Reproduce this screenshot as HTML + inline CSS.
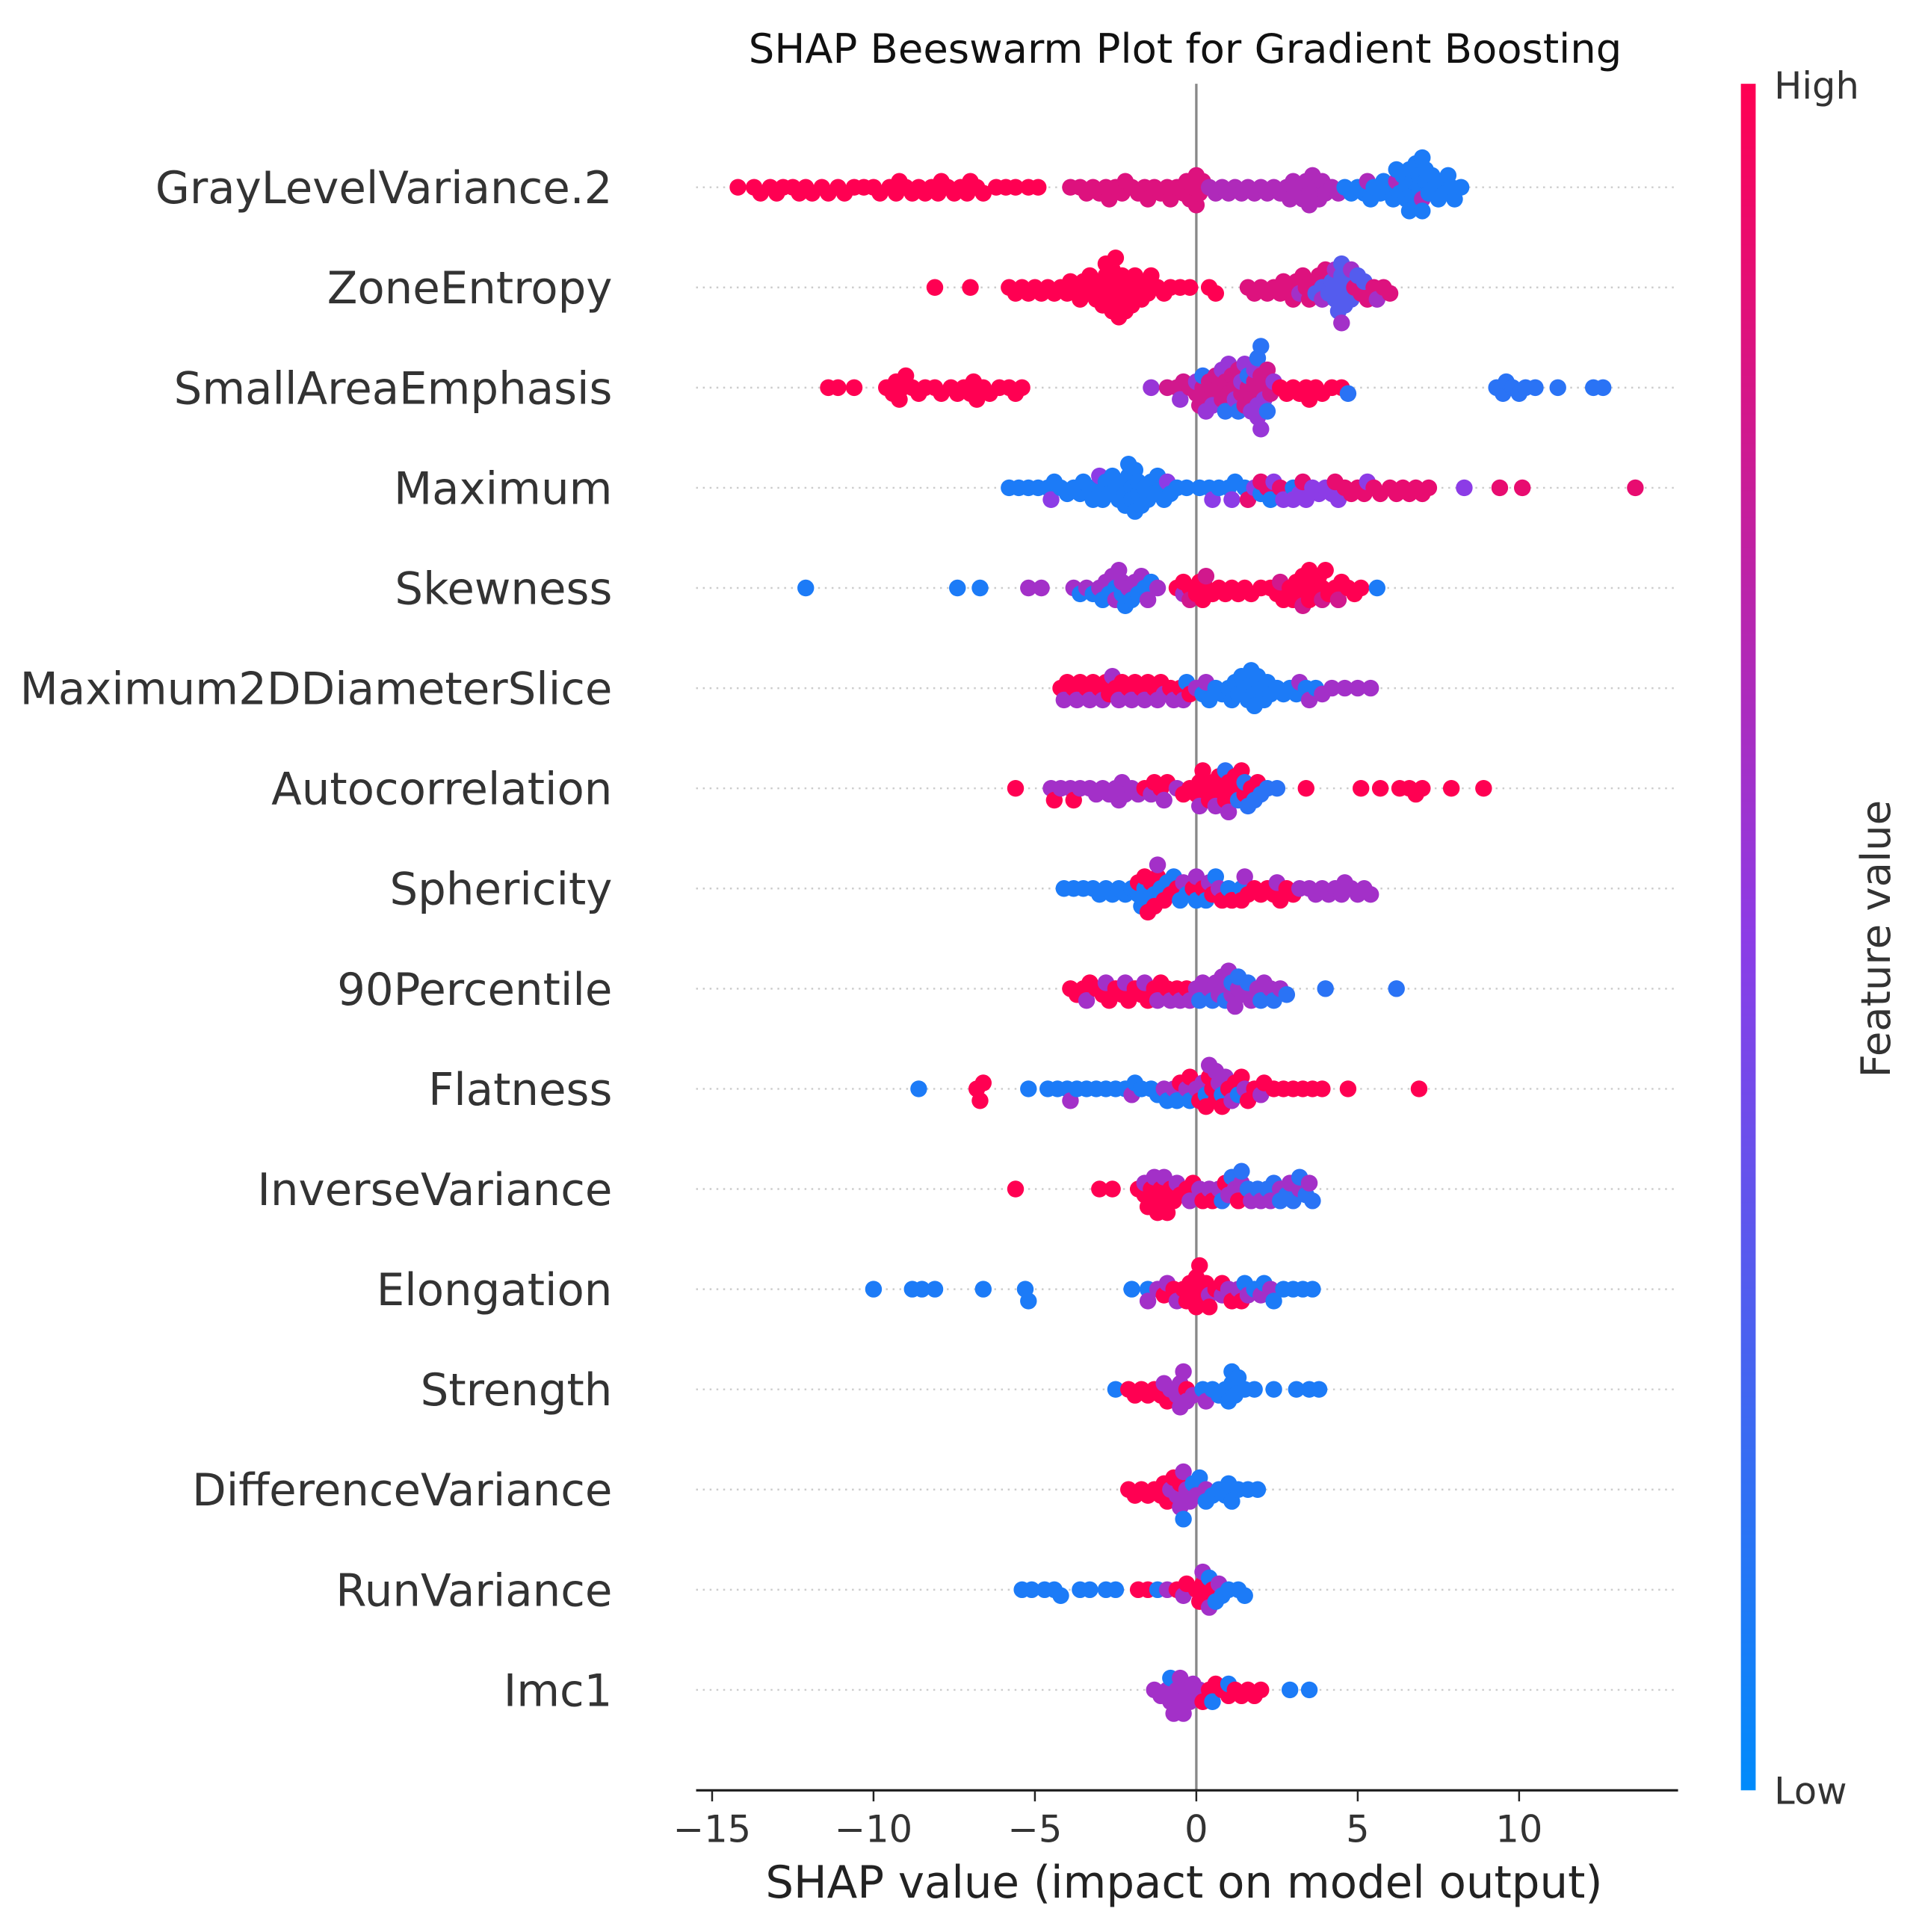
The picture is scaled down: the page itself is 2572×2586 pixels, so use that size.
<!DOCTYPE html>
<html><head><meta charset="utf-8"><style>
html,body{margin:0;padding:0;background:#fff;}
svg{display:block;}
text{font-family:"DejaVu Sans","Liberation Sans",sans-serif;}
</style></head><body>
<svg id="chart" width="2572" height="2586" viewBox="0 0 1560 1568" preserveAspectRatio="none" xmlns="http://www.w3.org/2000/svg">
<defs><linearGradient id="cb" x1="0" y1="1" x2="0" y2="0">
<stop offset="0" stop-color="#008bfb"/><stop offset="0.5" stop-color="#8c3ce6"/><stop offset="1" stop-color="#ff0052"/></linearGradient></defs>
<text x="962" y="51" font-size="33" text-anchor="middle" fill="#111">SHAP Beeswarm Plot for Gradient Boosting</text>
<g id="grid"></g>
<line x1="971" y1="68" x2="971" y2="1453" stroke="#888" stroke-width="2"/>
<g id="dots"></g>
<g id="labels"></g>
<line x1="565" y1="1453" x2="1362" y2="1453" stroke="#222" stroke-width="2"/>
<g id="ticks"></g>
<text x="961" y="1540" font-size="36" text-anchor="middle" fill="#222">SHAP value (impact on model output)</text>
<rect x="1413" y="68" width="12" height="1385" fill="url(#cb)"/>
<text x="1440" y="80" font-size="30" fill="#333">High</text>
<text x="1440" y="1464" font-size="30" fill="#333">Low</text>
<text transform="translate(1534,762) rotate(-90)" font-size="33" text-anchor="middle" fill="#333">Feature value</text>
</svg>
<script>
const features = ["GrayLevelVariance.2","ZoneEntropy","SmallAreaEmphasis","Maximum","Skewness","Maximum2DDiameterSlice","Autocorrelation","Sphericity","90Percentile","Flatness","InverseVariance","Elongation","Strength","DifferenceVariance","RunVariance","Imc1"];
const xTicks = [-15,-10,-5,0,5,10];
// each group: first element = feature value (0 low .. 1 high), rest = SHAP values
const grayLevelVariance2 = [
[1,-14.2,-13.7,-13.5,-13.2,-13.0,-12.8,-12.5,-12.3,-12.1,-11.9,-11.6,-11.4,-11.1,-10.9,-10.6,-10.3,-10.0,-9.8,-9.5,-9.3,-9.2,-9.0,-8.8,-8.6,-8.4,-8.2,-8.0,-7.9,-7.7,-7.5,-7.3,-7.1,-7.0,-6.8,-6.6,-6.2,-5.9,-5.6,-5.2,-4.9],
[0.85,-3.9,-3.6,-3.4,-3.2,-3.0,-2.8,-2.7,-2.5,-2.3,-2.2,-2.0,-1.8,-1.6,-1.5,-1.3,-1.1,-0.9,-0.8,-0.6,-0.4,-0.3,-0.2,-0.1,0,0,0.1,0.2],
[0.65,0.4,0.6,0.8,1.0,1.2,1.4,1.6,1.8,2.0,2.2,2.4,2.6,2.8,2.9,3.0,3.2,3.3,3.4,3.5,3.5,3.6,3.7,3.8,3.9,4.0,4.2,4.4,5.3,6.2,7.0],
[0.1,4.6,4.8,5.0,5.2,5.4,5.5,5.7,5.8,6.0,6.1,6.2,6.3,6.4,6.5,6.5,6.6,6.6,6.7,6.7,6.8,6.8,6.9,6.9,7.0,7.0,7.1,7.1,7.2,7.3,7.4,7.5,7.6,7.7,7.8,7.9,8.0,8.2]];
const zoneEntropy = [
[1,-8.1,-7.0,-5.8,-5.6,-5.4,-5.2,-5.0,-4.8,-4.6,-4.4,-4.2,-4.0,-3.9,-3.7,-3.6,-3.5,-3.4,-3.3,-3.2,-3.1,-3.0,-2.9,-2.9,-2.8,-2.8,-2.7,-2.7,-2.6,-2.6,-2.5,-2.5,-2.5,-2.4,-2.4,-2.3,-2.3,-2.2,-2.2,-2.1,-2.0,-2.0,-1.9,-1.8,-1.7,-1.6,-1.5,-1.4,-1.2,-1.0,-0.8,-0.5,-0.2,0.4,0.6],
[0.85,1.6,1.8,2.0,2.2,2.4,2.6,2.7,2.9,3.0,3.1,3.3,3.4,3.5,3.6,3.8,4.0,4.9,5.1,5.3,5.5,5.8,6.0],
[0.3,3.7,3.9,4.1,4.2,4.3,4.4,4.4,4.5,4.5,4.6,4.6,4.7,4.8,5.0,5.2],
[0.6,3.2,3.9,4.3,4.5,4.8,5.6]];
const smallAreaEmphasis = [
[1,-11.4,-11.1,-10.6,-9.6,-9.4,-9.3,-9.2,-9.1,-9.0,-8.8,-8.6,-8.4,-8.1,-7.9,-7.6,-7.4,-7.2,-7.0,-6.9,-6.8,-6.6,-6.4,-6.1,-5.8,-5.6,-5.4,2.6,2.8,3.0,3.2,3.4,3.5,3.7,3.9,4.2,4.5],
[0.8,-0.9,-0.6,-0.4,-0.2,0,0.1,0.2,0.3,0.4,0.5,0.6,0.7,0.8,0.9,1.0,1.1,1.2,1.3,1.4,1.5,1.6,1.7,1.8,1.9,2.0,2.1,2.2,2.3],
[0.55,-1.4,-0.5,0,0.3,0.5,0.8,1.0,1.2,1.4,1.5,1.7,1.8,1.9,1.9,2.0,2.1,2.4],
[0.15,0.2,0.9,1.3,1.6,1.9,2.0,2.2,4.7,9.3,9.5,9.6,9.8,10.0,10.2,10.5,11.2,12.3,12.6]];
const maximum = [
[0.1,-5.8,-5.5,-5.2,-4.9,-4.6,-4.4,-4.2,-4.0,-3.8,-3.6,-3.5,-3.3,-3.2,-3.0,-2.9,-2.8,-2.7,-2.6,-2.5,-2.4,-2.3,-2.2,-2.2,-2.1,-2.1,-2.0,-2.0,-1.9,-1.9,-1.8,-1.8,-1.7,-1.6,-1.5,-1.4,-1.3,-1.2,-1.1,-1.0,-0.8,-0.6,-0.3,0.1,0.4,0.7,1.0,1.2,1.5,2.0,2.3,3.0],
[0.5,-4.5,-3.0,-0.9,0.5,1.1,1.8,2.4,2.7,3.0,3.2,3.4,3.6,3.8,4.0,4.2,4.4,5.3,8.3],
[0.9,1.6,2.0,2.2,2.6,3.3,4.3,4.6,4.8,5.0,5.2,5.5,5.7,6.0,6.2,6.4,6.6,6.8,7.0,7.2,9.4,10.1,13.6]];
const skewness = [
[0.1,-12.1,-7.4,-6.7,-3.6,-3.2,-2.9,-2.7,-2.5,-2.3,-2.2,-2.0,-1.8,-1.6,-1.4,5.6],
[0.6,-5.2,-4.8,-3.8,-3.4,-3.0,-2.8,-2.6,-2.5,-2.4,-2.3,-2.1,-1.9,-1.7,-1.5,-1.2,-0.4],
[1,-0.6,-0.4,-0.2,0,0.1,0.2,0.3,0.5,0.7,0.9,1.1,1.3,1.5,1.7,2.0,2.3,2.5,2.7,2.9,3.0,3.1,3.2,3.3,3.4,3.5,3.5,3.6,3.7,3.8,3.9,4.0,4.1,4.3,4.5,4.7,4.9,5.1],
[0.8,-0.2,0.3,2.6,3.3,3.9,4.4]];
const maximum2DDiameterSlice = [
[1,-4.2,-4.0,-3.8,-3.6,-3.4,-3.2,-3.0,-2.8,-2.7,-2.5,-2.3,-2.1,-1.9,-1.7,-1.5,-1.3,-1.1,-0.8,-0.5,-0.2],
[0.6,-4.1,-3.7,-3.3,-2.9,-2.6,-2.4,-2.0,-1.6,-1.2,-1.0,-0.7,-0.4,0.0,0.3,3.2,3.5,3.9,4.2,4.6,5.0,5.4],
[0.1,-0.3,0.2,0.4,0.6,0.8,1.0,1.1,1.2,1.3,1.4,1.5,1.6,1.7,1.7,1.8,1.8,1.9,2.0,2.1,2.2,2.3,2.5,2.7,2.9,3.1,3.4,3.7]];
const autocorrelation = [
[1,-5.6,-4.4,-3.8,-1.6,-1.3,-1.1,-0.9,-0.4,-0.2,0,0.1,0.2,0.3,0.4,0.5,0.6,0.7,0.8,0.9,1.0,1.1,1.2,1.3,1.4,1.5,1.7,1.9,3.4,5.1,5.7,6.3,6.6,6.8,7.0,7.9,8.9],
[0.6,-4.5,-4.2,-3.9,-3.6,-3.3,-3.1,-2.9,-2.7,-2.5,-2.4,-2.3,-2.2,-2.0,-1.8,-1.4,-1.0,-0.6,0.1,0.6,1.0],
[0.15,0.9,1.3,1.5,1.6,1.8,2.0,2.2,2.5]];
const sphericity = [
[0.1,-4.1,-3.8,-3.5,-3.2,-3.0,-2.8,-2.6,-2.4,-2.2,-2.0,-1.8,-1.7,-1.6,-1.5,-1.3,-1.1,-0.9,-0.7,-0.5,-0.3,0.0,0.3,0.6,1.0,1.4],
[1,-1.8,-1.6,-1.5,-1.4,-1.3,-1.2,-1.0,-0.8,-0.6,-0.1,0.2,0.5,0.8,1.1,1.4,1.6,1.8,2.0,2.2,2.4,2.6,2.8,3.0],
[0.6,-1.2,-0.4,0.0,0.4,0.7,1.5,2.5,3.2,3.5,3.7,3.9,4.1,4.3,4.5,4.6,4.8,5.0,5.2,5.4]];
const percentile90 = [
[1,-3.9,-3.7,-3.5,-3.3,-3.1,-2.9,-2.7,-2.5,-2.3,-2.1,-1.9,-1.7,-1.5,-1.3,-1.1,-0.9,-0.6,-0.3],
[0.6,-3.4,-2.8,-2.2,-1.6,-1.2,-0.8,-0.5,-0.2,0.0,0.2,0.4,0.6,0.7,0.8,0.9,1.0,1.1,1.2,1.3,1.5,1.7,1.9,2.1,2.3,2.6],
[0.15,0.1,0.5,0.9,1.1,1.3,1.6,2.0,2.4,2.8,4.0,6.2]];
const flatness = [
[0.1,-8.6,-5.2,-4.6,-4.3,-4.0,-3.7,-3.4,-3.1,-2.8,-2.5,-2.2,-1.9,-1.7,-1.4,-1.2,-0.9,-0.6,-0.2,0.3,0.8,1.3],
[1,-6.8,-6.6,-6.7,-0.5,-0.2,0.1,0.3,0.4,0.5,0.6,0.8,1.0,1.2,1.4,1.6,1.8,2.1,2.4,2.7,3.0,3.3,3.6,3.9,4.7,6.9],
[0.6,-3.9,-2.0,-1.0,-0.7,-0.3,0.0,0.2,0.4,0.6,0.7,0.9,1.1,1.5,2.0]];
const inverseVariance = [
[1,-5.6,-3.0,-2.6,-1.8,-1.6,-1.5,-1.4,-1.3,-1.2,-1.1,-1.0,-0.9,-0.8,-0.7,-0.5,-0.3,-0.1,0.2,0.5,0.9,1.3],
[0.6,-1.6,-1.3,-1.0,-0.6,-0.2,0.1,0.4,0.7,1.0,1.2,1.4,1.7,2.0,2.3,2.6,2.9,3.2,3.5],
[0.15,0.8,1.1,1.4,1.6,1.9,2.2,2.4,2.6,2.8,3.0,3.2,3.4,3.6]];
const elongation = [
[0.1,-10.0,-8.8,-8.5,-8.1,-6.6,-5.3,-5.2,-2.0,-1.5,1.5,1.8,2.1,2.4,2.7,3.0,3.3,3.6],
[0.6,-1.5,-1.2,-0.9,-0.6,0.4,0.8,1.0,1.3,1.6,2.0,2.3],
[1,-1.0,-0.7,-0.4,-0.3,-0.2,-0.1,0,0,0.1,0.1,0.2,0.3,0.4,0.6,0.8,1.1,1.4]];
const strength = [
[0.1,-2.5,0.2,0.5,0.7,0.9,1.0,1.1,1.1,1.2,1.3,1.5,1.8,2.4,3.1,3.5,3.8],
[1,-2.1,-1.9,-1.7,-1.5,-1.3,-1.1,-0.9,-0.3],
[0.6,-1.0,-0.8,-0.6,-0.5,-0.5,-0.4,-0.3,-0.1,0.3]];
const differenceVariance = [
[1,-2.1,-1.9,-1.7,-1.5,-1.3,-1.1,-1.0,-0.9,-0.7,-0.5],
[0.6,-0.8,-0.6,-0.5,-0.4,-0.3,-0.2,0.0,0.3],
[0.1,-0.4,-0.1,0.1,0.3,0.5,0.7,0.9,1.0,1.1,1.3,1.6,1.9]];
const runVariance = [
[0.1,-5.4,-5.1,-4.7,-4.4,-4.2,-3.6,-3.3,-2.8,-2.5,-1.2,0.4,0.6,0.8,1.0,1.3,1.5],
[1,-1.8,-1.5,-0.6,-0.3,0.0,0.1,0.2,0.3,0.5],
[0.6,-0.9,-0.4,0.2,0.4,0.7]];
const imc1 = [
[0.6,-1.3,-1.1,-0.9,-0.8,-0.7,-0.6,-0.5,-0.5,-0.4,-0.3,-0.2,-0.1,0.1],
[1,0.2,0.4,0.6,0.8,1.0,1.2,1.4,1.6,1.8,2.0],
[0.1,-0.8,0.5,1.0,2.9,3.5]];
const rowData = [grayLevelVariance2,zoneEntropy,smallAreaEmphasis,maximum,skewness,maximum2DDiameterSlice,autocorrelation,sphericity,percentile90,flatness,inverseVariance,elongation,strength,differenceVariance,runVariance,imc1];

const NS = "http://www.w3.org/2000/svg";
const xScale = v => 971 + v * 26.2;
const yRow = i => 152 + i * 81.3;
function colorOf(f){
  const a=[0,139,251], m=[140,60,230], b=[255,0,82];
  let c;
  if(f<0.5){const t=f/0.5;c=a.map((v,k)=>Math.round(v+(m[k]-v)*t));}
  else{const t=(f-0.5)/0.5;c=m.map((v,k)=>Math.round(v+(b[k]-v)*t));}
  return "rgb("+c.join(",")+")";
}
const grid=document.getElementById("grid"), dots=document.getElementById("dots"), labels=document.getElementById("labels"), ticks=document.getElementById("ticks");
features.forEach((name,i)=>{
  const y=yRow(i);
  const g=document.createElementNS(NS,"line");
  g.setAttribute("x1",565);g.setAttribute("x2",1362);g.setAttribute("y1",y);g.setAttribute("y2",y);
  g.setAttribute("stroke","#ccc");g.setAttribute("stroke-width","1.5");g.setAttribute("stroke-dasharray","1.5,4");
  
  
  grid.appendChild(g);
  const t=document.createElementNS(NS,"text");
  t.setAttribute("x",497);t.setAttribute("y",y+13);t.setAttribute("font-size","36");t.setAttribute("text-anchor","end");t.setAttribute("fill","#333");
  t.textContent=name;
  
  
  labels.appendChild(t);
  const pts=[];
  rowData[i].forEach(grp=>{const f=grp[0];for(let k=1;k<grp.length;k++)pts.push({v:grp[k],f:f});});
  pts.sort((a,b)=>a.v-b.v);
  const placed=[];
  pts.forEach(p=>{
    const px=xScale(p.v);let off=0;
    for(let s=0;s<40;s++){
      const cand=(s===0)?0:(s%2?1:-1)*Math.ceil(s/2)*4.8;
      let ok=true;
      for(const q of placed){const dx=q.x-px,dy=q.o-cand;if(dx*dx+dy*dy<45){ok=false;break;}}
      if(ok){off=cand;break;}
    }
    placed.push({x:px,o:off});
    const c=document.createElementNS(NS,"circle");
    c.setAttribute("cx",px);c.setAttribute("cy",y+off);c.setAttribute("r","6.8");c.setAttribute("fill",colorOf(p.f));
    
    
    dots.appendChild(c);
  });
});
xTicks.forEach(v=>{
  const x=xScale(v);
  const l=document.createElementNS(NS,"line");
  l.setAttribute("x1",x);l.setAttribute("x2",x);l.setAttribute("y1",1453);l.setAttribute("y2",1462);l.setAttribute("stroke","#222");l.setAttribute("stroke-width","1.5");
  
  
  ticks.appendChild(l);
  const t=document.createElementNS(NS,"text");
  t.setAttribute("x",x);t.setAttribute("y",1495);t.setAttribute("font-size","30");t.setAttribute("text-anchor","middle");t.setAttribute("fill","#333");
  t.textContent=v<0?"\u2212"+Math.abs(v):String(v);
  
  
  ticks.appendChild(t);
});
</script>
</body></html>
